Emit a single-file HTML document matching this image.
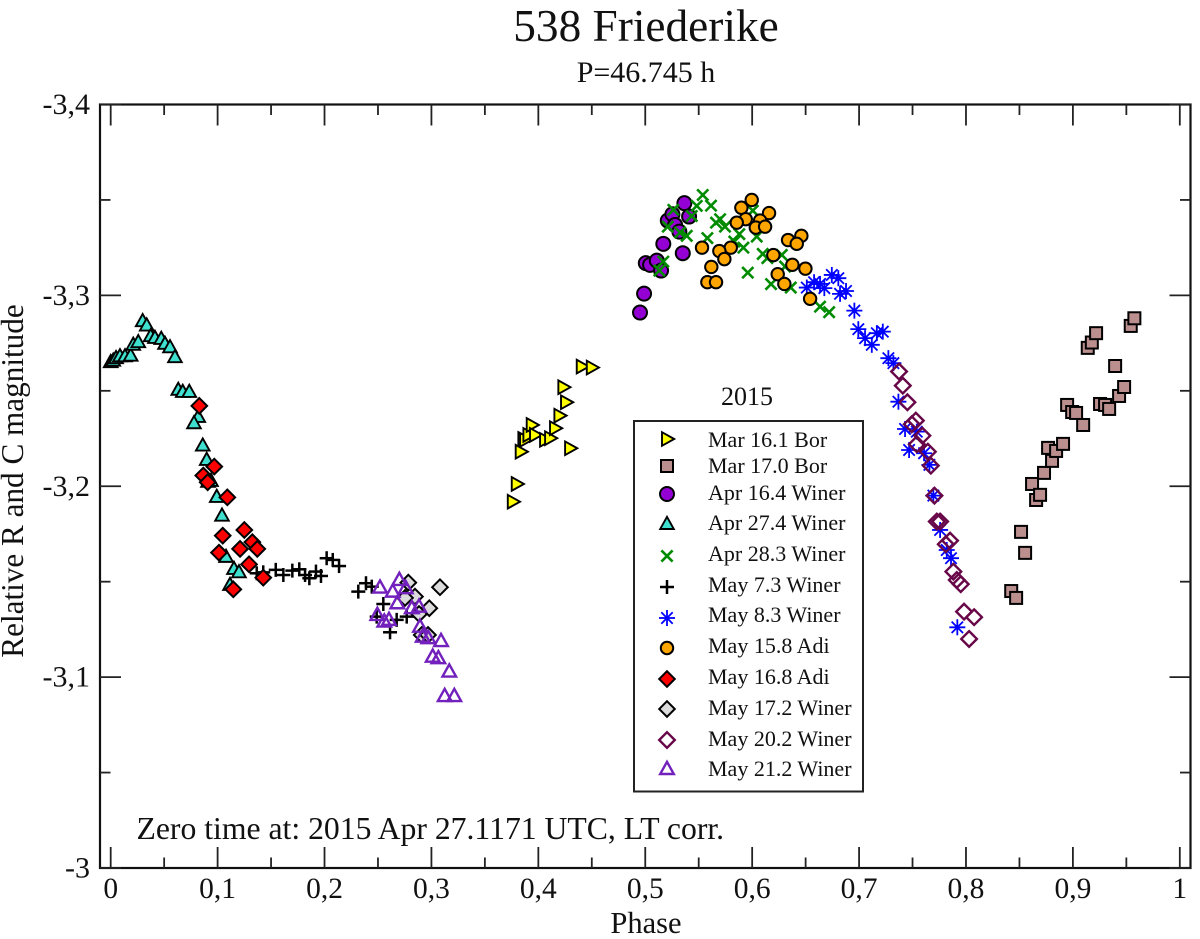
<!DOCTYPE html>
<html lang="en">
<head>
<meta charset="utf-8">
<title>538 Friederike</title>
<style>
html,body{margin:0;padding:0;background:#fff;}
svg{display:block;}
text{font-family:"Liberation Serif",serif;fill:#111;}
</style>
</head>
<body>
<svg id="chart" xmlns="http://www.w3.org/2000/svg" width="1200" height="939" viewBox="0 0 1200 939">
  <rect x="0" y="0" width="1200" height="939" fill="#fff"/>
  <text x="646" y="41" font-size="45.3" text-anchor="middle">538 Friederike</text>
  <text x="646" y="82" font-size="30" text-anchor="middle">P=46.745 h</text>
  <g id="axes"></g>
  <g id="marks"></g>
  <text transform="translate(23,481) rotate(-90)" font-size="31.2" text-anchor="middle">Relative R and C magnitude</text>
  <text x="646" y="933" font-size="30.5" text-anchor="middle">Phase</text>
  <text x="136.5" y="839" font-size="31.7">Zero time at: 2015 Apr 27.1171 UTC, LT corr.</text>
  <text x="747" y="405" font-size="26" text-anchor="middle">2015</text>
  <rect x="634" y="421" width="229" height="370.5" fill="#fff" stroke="#222" stroke-width="2"/>
  <g id="legend"></g>
</svg>
<script>
const xTicks = [0, 0.1, 0.2, 0.3, 0.4, 0.5, 0.6, 0.7, 0.8, 0.9, 1];
const xTickLabels = ["0", "0,1", "0,2", "0,3", "0,4", "0,5", "0,6", "0,7", "0,8", "0,9", "1"];
const xMinorTicks = [0.05, 0.15, 0.25, 0.35, 0.45, 0.55, 0.65, 0.75, 0.85, 0.95];
const yTicks = [-3, -3.1, -3.2, -3.3, -3.4];
const yTickLabels = ["-3", "-3,1", "-3,2", "-3,3", "-3,4"];
const yMinorTicks = [-3.05, -3.15, -3.25, -3.35];
const xDomain = [-0.01, 1.01];
const yDomain = [-3, -3.4];

const legendLabels = ["Mar 16.1 Bor", "Mar 17.0 Bor", "Apr 16.4 Winer", "Apr 27.4 Winer", "Apr 28.3 Winer", "May 7.3 Winer", "May 8.3 Winer", "May 15.8 Adi", "May 16.8 Adi", "May 17.2 Winer", "May 20.2 Winer", "May 21.2 Winer"];

const mar161Phase = [.3761,.3798,.3835,.3860,.3876,.3907,.3938,.3969,.4063,.4110,.4156,.4197,.4259,.4234,.4297,.4406,.4500];
const mar161Mag = [-3.1919,-3.2012,-3.2181,-3.2248,-3.2243,-3.2269,-3.2321,-3.2269,-3.2243,-3.2252,-3.2304,-3.2370,-3.2440,-3.2519,-3.2199,-3.2627,-3.2622];

const mar170Phase = [.8423,.8469,.8515,.8553,.8618,.8656,.8693,.8730,.8768,.8805,.8843,.8908,.8946,.8993,.9030,.9096,.9139,.9177,.9217,.9254,.9301,.9339,.9395,.9432,.9479,.9541,.9575];
const mar170Mag = [-3.1451,-3.1415,-3.1761,-3.1651,-3.2012,-3.1928,-3.1955,-3.2070,-3.2201,-3.2133,-3.2185,-3.2222,-3.2426,-3.2389,-3.2384,-3.2321,-3.2725,-3.2753,-3.2802,-3.2431,-3.2426,-3.2405,-3.2630,-3.2473,-3.2520,-3.2840,-3.2880];

const apr164Phase = [.4951,.4989,.5005,.5045,.5108,.5148,.5169,.5351,.5211,.5254,.5279,.5319,.5366,.5410];
const apr164Mag = [-3.2910,-3.3009,-3.3169,-3.3160,-3.3182,-3.3130,-3.3270,-3.3221,-3.3392,-3.3425,-3.3369,-3.3334,-3.3483,-3.3413];

const apr274Phase = [0,.0024,.0050,.0087,.0134,.0187,.0211,.0258,.0299,.0337,.0374,.0414,.0473,.0508,.0555,.0601,.0632,.0674,.0735,.0819,.0779,.0861,.0898,.0910,.0938,.0992,.1041,.1079,.1153,.1200,.1116];
const apr274Mag = [-3.2650,-3.2658,-3.2671,-3.2681,-3.2681,-3.2684,-3.2741,-3.2755,-3.2865,-3.2842,-3.2786,-3.2777,-3.2772,-3.2746,-3.2728,-3.2676,-3.2505,-3.2494,-3.2494,-3.2363,-3.2330,-3.2213,-3.2138,-3.2023,-3.2028,-3.1944,-3.1846,-3.1630,-3.1567,-3.1549,-3.1483];

const apr283Phase = [.5538,.5482,.5615,.5263,.5435,.5700,.5662,.5746,.5211,.5326,.5388,.5581,.5880,.5833,.6043,.6006,.5918,.6099,.6142,.6277,.6308,.5959,.6177,.6361,.6635,.6720,.5169,.5132];
const apr283Mag = [-3.3526,-3.3469,-3.3470,-3.3448,-3.3416,-3.3399,-3.3381,-3.3360,-3.3360,-3.3329,-3.3312,-3.3300,-3.3321,-3.3282,-3.3308,-3.3444,-3.3250,-3.3217,-3.3195,-3.3212,-3.3151,-3.3119,-3.3059,-3.3041,-3.2941,-3.2912,-3.3177,-3.3130];

const may73Phase = [.1366,.1427,.1544,.1615,.1699,.1764,.1818,.1858,.1920,.1967,.2020,.2077,.2136,.2316,.2388,.2442,.2550,.2488,.2675,.2769,.2613];
const may73Mag = [-3.1544,-3.1549,-3.1562,-3.1535,-3.1558,-3.1565,-3.1535,-3.1518,-3.1553,-3.1530,-3.1623,-3.1614,-3.1582,-3.1448,-3.1492,-3.1474,-3.1383,-3.1317,-3.1300,-3.1317,-3.1235];

const may83Phase = [.6511,.6579,.6635,.6675,.6745,.6806,.6822,.6878,.6956,.6993,.7056,.7119,.7166,.7222,.7274,.7321,.7368,.7430,.7540,.7468,.7608,.7658,.7695,.7758,.7820,.7860,.7919];
const may83Mag = [-3.3041,-3.3069,-3.3060,-3.3038,-3.3107,-3.3090,-3.3008,-3.3023,-3.2920,-3.2823,-3.2776,-3.2741,-3.2802,-3.2810,-3.2671,-3.2645,-3.2443,-3.2300,-3.2286,-3.2190,-3.2173,-3.2112,-3.1951,-3.1771,-3.1666,-3.1623,-3.1261];

const may158Phase = [.5996,.5899,.6158,.5940,.5856,.6074,.6034,.6121,.6460,.6336,.6417,.5531,.5800,.5693,.5740,.6198,.6376,.6498,.5618,.6239,.6301,.5581,.5662,.6542];
const may158Mag = [-3.3500,-3.3459,-3.3431,-3.3399,-3.3381,-3.3392,-3.3355,-3.3360,-3.3312,-3.3290,-3.3270,-3.3250,-3.3250,-3.3232,-3.3190,-3.3211,-3.3160,-3.3140,-3.3149,-3.3111,-3.3060,-3.3069,-3.3069,-3.2982];

const may168Phase = [.0829,.0969,.0866,.0907,.1091,.1048,.1250,.1325,.1371,.1210,.1013,.1294,.1427,.1147];
const may168Mag = [-3.2421,-3.2103,-3.2056,-3.2021,-3.1942,-3.1741,-3.1771,-3.1707,-3.1672,-3.1672,-3.1652,-3.1591,-3.1521,-3.1460];

const may172Phase = [.2784,.3080,.2846,.2753,.2980,.2884,.2909,.2968];
const may172Mag = [-3.1495,-3.1471,-3.1422,-3.1415,-3.1361,-3.1331,-3.1221,-3.1221];

const may202Phase = [.7374,.7409,.7452,.7531,.7493,.7592,.7540,.7643,.7671,.7705,.7758,.7727,.7851,.7811,.7882,.7914,.7951,.7982,.8076,.8029];
const may202Mag = [-3.2601,-3.2527,-3.2440,-3.2344,-3.2325,-3.2265,-3.2220,-3.2181,-3.2108,-3.1951,-3.1815,-3.1815,-3.1715,-3.1696,-3.1553,-3.1509,-3.1487,-3.1343,-3.1314,-3.1200];

const may212Phase = [.2519,.2700,.2638,.2760,.2681,.2494,.2559,.2603,.2816,.2884,.2893,.2919,.2971,.3090,.3012,.3065,.3167,.3124,.3214];
const may212Mag = [-3.1469,-3.1509,-3.1448,-3.1466,-3.1387,-3.1326,-3.1291,-3.1300,-3.1361,-3.1369,-3.1264,-3.1212,-3.1204,-3.1189,-3.1107,-3.1099,-3.1029,-3.0901,-3.0901];

const seriesPhase = [mar161Phase, mar170Phase, apr164Phase, apr274Phase, apr283Phase, may73Phase, may83Phase, may158Phase, may168Phase, may172Phase, may202Phase, may212Phase];
const seriesMag = [mar161Mag, mar170Mag, apr164Mag, apr274Mag, apr283Mag, may73Mag, may83Mag, may158Mag, may168Mag, may172Mag, may202Mag, may212Mag];
const seriesShape = ["right", "square", "circle", "up", "cross", "plus", "star", "circle", "diamond", "diamond", "diamond", "up"];
const seriesFill = ["#ffff00", "#bc8f8f", "#9400d3", "#40e0d0", "none", "none", "none", "#ffa500", "#ff0000", "#dcdcdc", "none", "none"];
const seriesStroke = ["#000", "#000", "#000", "#000", "#008b00", "#000", "#0000ff", "#000", "#000", "#000", "#670748", "#7221bc"];
const seriesStrokeWidth = [1.9, 2, 2, 1.9, 2.6, 2.5, 1.8, 2, 2, 2, 2.4, 2.4];
const seriesMarkScale = [1, 1, 1.06, 1, 1, 1, 1, 0.94, 1, 1, 1, 1];

const SVG_NS = "http://www.w3.org/2000/svg";
const plot = { left: 100, right: 1190.5, top: 104.5, bottom: 868 };
const xAxis = p => plot.left + (p - xDomain[0]) / (xDomain[1] - xDomain[0]) * (plot.right - plot.left);
const yAxis = m => plot.bottom + (m - yDomain[0]) / (yDomain[1] - yDomain[0]) * (plot.top - plot.bottom);

function make(tag, parent) {
  const el = document.createElementNS(SVG_NS, tag);
  parent.appendChild(el);
  return el;
}

function line(parent, x1, y1, x2, y2, stroke, width) {
  const el = make("line", parent);
  el.setAttribute("x1", x1);
  el.setAttribute("y1", y1);
  el.setAttribute("x2", x2);
  el.setAttribute("y2", y2);
  el.setAttribute("stroke", stroke);
  el.setAttribute("stroke-width", width);
  return el;
}

function drawShape(parent, shape, cx, cy, fill, stroke, sw, scale) {
  const g = make("g", parent);
  g.setAttribute("fill", fill);
  g.setAttribute("stroke", stroke);
  g.setAttribute("stroke-width", sw);
  g.setAttribute("stroke-linejoin", "miter");
  const poly = pts => {
    const p = make("polygon", g);
    p.setAttribute("points", pts.map(q => (cx + q[0]) + "," + (cy + q[1])).join(" "));
  };
  if (shape === "circle") {
    const c = make("circle", g);
    c.setAttribute("cx", cx);
    c.setAttribute("cy", cy);
    c.setAttribute("r", 6.6 * scale);
  } else if (shape === "square") {
    const r = make("rect", g);
    r.setAttribute("x", cx - 6);
    r.setAttribute("y", cy - 6);
    r.setAttribute("width", 12);
    r.setAttribute("height", 12);
  } else if (shape === "diamond") {
    poly([[0, -7.8], [7.8, 0], [0, 7.8], [-7.8, 0]]);
  } else if (shape === "up") {
    poly([[0, -7.2], [6.8, 5], [-6.8, 5]]);
  } else if (shape === "right") {
    poly([[7.2, 0], [-5, -6.8], [-5, 6.8]]);
  } else if (shape === "plus") {
    line(g, cx - 7, cy, cx + 7, cy, stroke, sw);
    line(g, cx, cy - 7, cx, cy + 7, stroke, sw);
  } else if (shape === "cross") {
    line(g, cx - 5.6, cy - 5.6, cx + 5.6, cy + 5.6, stroke, sw);
    line(g, cx - 5.6, cy + 5.6, cx + 5.6, cy - 5.6, stroke, sw);
  } else if (shape === "star") {
    line(g, cx - 8, cy, cx + 8, cy, stroke, sw);
    line(g, cx, cy - 8, cx, cy + 8, stroke, sw);
    line(g, cx - 5.7, cy - 5.7, cx + 5.7, cy + 5.7, stroke, sw);
    line(g, cx - 5.7, cy + 5.7, cx + 5.7, cy - 5.7, stroke, sw);
  }
  return g;
}

const axes = document.getElementById("axes");
const frame = make("rect", axes);


frame.setAttribute("x", plot.left);
frame.setAttribute("y", plot.top);
frame.setAttribute("width", plot.right - plot.left);
frame.setAttribute("height", plot.bottom - plot.top);
frame.setAttribute("fill", "none");
frame.setAttribute("stroke", "#111");
frame.setAttribute("stroke-width", 2.2);

const MAJOR = 21;
const MINOR = 10.5;
xTicks.forEach((v, i) => {
  const x = xAxis(v);
  const bottom = line(axes, x, plot.bottom, x, plot.bottom - MAJOR, "#222", 1.8);
  
  
  const top = line(axes, x, plot.top, x, plot.top + MAJOR, "#222", 1.8);
  
  
  const label = make("text", axes);
  
  
  label.setAttribute("x", x);
  label.setAttribute("y", 898);
  label.setAttribute("font-size", 29.5);
  label.setAttribute("text-anchor", "middle");
  label.textContent = xTickLabels[i];
});
xMinorTicks.forEach(v => {
  const x = xAxis(v);
  const bottom = line(axes, x, plot.bottom, x, plot.bottom - MINOR, "#222", 1.8);
  
  
  const top = line(axes, x, plot.top, x, plot.top + MINOR, "#222", 1.8);
  
  
});
yTicks.forEach((v, i) => {
  const y = yAxis(v);
  const left = line(axes, plot.left, y, plot.left + MAJOR, y, "#222", 1.8);
  
  
  const right = line(axes, plot.right, y, plot.right - MAJOR, y, "#222", 1.8);
  
  
  const label = make("text", axes);
  
  
  label.setAttribute("x", 90);
  label.setAttribute("y", y + 9.5);
  label.setAttribute("font-size", 30);
  label.setAttribute("text-anchor", "end");
  label.textContent = yTickLabels[i];
});
yMinorTicks.forEach(v => {
  const y = yAxis(v);
  const left = line(axes, plot.left, y, plot.left + MINOR, y, "#222", 1.8);
  
  
  const right = line(axes, plot.right, y, plot.right - MINOR, y, "#222", 1.8);
  
  
});

const marks = document.getElementById("marks");
seriesPhase.forEach((phases, s) => {
  const group = make("g", marks);
  
  
  phases.forEach((p, i) => {
    const mark = drawShape(group, seriesShape[s], xAxis(p), yAxis(seriesMag[s][i]), seriesFill[s], seriesStroke[s], seriesStrokeWidth[s], seriesMarkScale[s]);
    
    
  });
});

const legend = document.getElementById("legend");
function drawLegend() {
  const markX = 667;
  const textX = 708;
  const markY = [439, 466, 494, 524, 556, 587, 618, 648, 679, 709, 740, 769];
  const textY = [447, 473, 500, 530, 561, 592, 622, 653, 684, 715, 746, 776];
  legendLabels.forEach((name, s) => {
    const mark = drawShape(legend, seriesShape[s], markX, markY[s], seriesFill[s], seriesStroke[s], seriesStrokeWidth[s], seriesMarkScale[s]);
    
    
    const label = make("text", legend);
    
    
    label.setAttribute("x", textX);
    label.setAttribute("y", textY[s]);
    label.setAttribute("font-size", 22);
    label.textContent = name;
  });
}
drawLegend();
</script>
</body>
</html>
